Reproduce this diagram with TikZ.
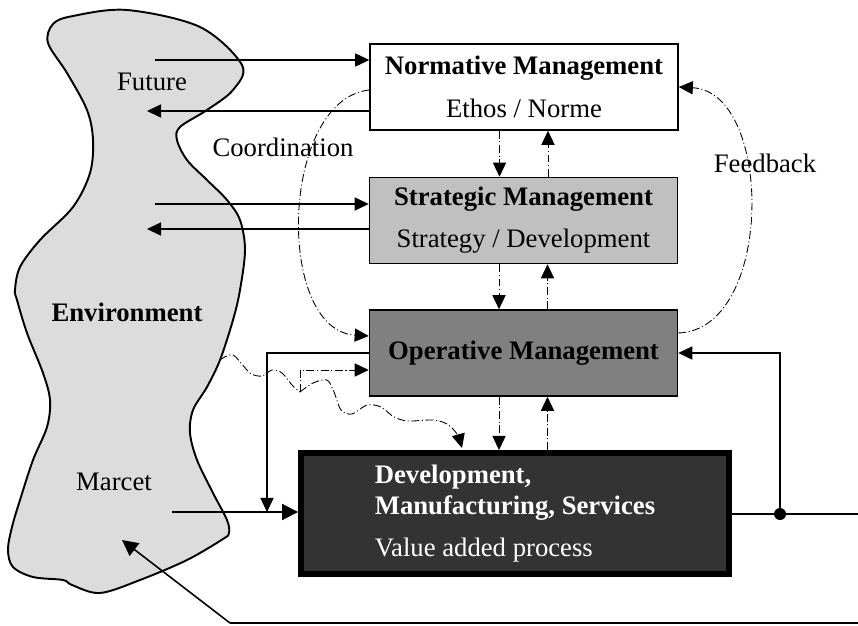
\documentclass[tikz,border=0pt]{standalone}
\usepackage{fontspec}
\setmainfont{Liberation Serif}
\usepackage{tikz}
\usetikzlibrary{arrows.meta}
\definecolor{envgray}{HTML}{DCDCDC}
\definecolor{stratgray}{HTML}{C0C0C0}
\definecolor{opgray}{HTML}{808080}
\definecolor{valdark}{HTML}{333333}
\tikzset{
  lvl/.style={draw,line width=0.9pt,minimum width=6.16cm,minimum height=1.72cm,align=center,inner sep=0pt},
  arr/.style={line width=0.6pt,-{Triangle[length=8pt,width=7.5pt]}},
  bigarr/.style={line width=1.1pt,-{Triangle[length=9pt,width=9pt]}},
  dd/.style={line width=0.5pt,dash pattern=on 4.5pt off 1.5pt on 0.6pt off 1.5pt,-{Triangle[length=8pt,width=7.5pt]}},
}
\newcommand{\lvlfont}{\fontsize{15.2}{18}\selectfont}

\begin{document}
\begin{tikzpicture}[x=0.02cm,y=-0.02cm,font=\lvlfont]
\useasboundingbox (0,0) rectangle (858,625);
% environment blob
\filldraw[fill=envgray,line width=1.1pt] plot[smooth cycle,tension=0.55] coordinates {
  (53,24) (73,16) (127,10) (200,27) (242,65) (233,90) (207,110) (180,127) (177,140)
  (187,160) (207,180) (227,200) (240,220) (245,250) (240,290) (233,320) (220,360)
  (207,387) (193,410) (190,433) (197,460) (213,493) (227,520) (229,533) (223,539)
  (187,560) (140,580) (100,593) (72,585) (63,580) (33,577) (13,567) (8,550) (12,527)
  (20,500) (33,460) (47,427) (50,400) (43,373) (27,333) (17,300) (15,290) (20,267)
  (40,240) (73,207) (90,173) (93,140) (87,110) (67,73) (48,43)};
\node (fut) at (152,82) {Future};
\node (env) at (127,312) {\textbf{Environment}};
\node (mar) at (114,482) {Marcet};

% management levels
\node[lvl,fill=white] (nor) at (524,87) {\textbf{Normative Management}\\[6.4pt]Ethos / Norme};
\node[lvl,fill=stratgray] (str) at (523.5,220.5) {\textbf{Strategic Management}\\[5.8pt]Strategy / Development};
\node[lvl,fill=opgray] (opr) at (523.5,353) {\textbf{Operative Management}};
\node[draw,line width=3.4pt,fill=valdark,text=white,minimum width=8.56cm,minimum height=2.42cm,
  align=left,inner sep=0pt] (dev) at (515,513.5)
  {\textbf{Development,}\\\textbf{Manufacturing, Services}\\[5.8pt]Value added process};

\node (coo) at (283,147) {Coordination};
\node (fbk) at (765,163) {Feedback};

\coordinate (futin) at (155,60);
\coordinate (futout) at (147,111);
\coordinate (strin) at (155,204);
\coordinate (strout) at (147,229);
\coordinate (mkt) at (172,512);
\coordinate (mkj) at (267,512);
\coordinate (tap) at (780,514);
\coordinate (outr) at (858,514);
\coordinate (retr) at (858,623);
\coordinate (retk) at (230,623);
\coordinate (rett) at (122,540);
\coordinate (wst) at (220,360);
\coordinate (wj) at (300,392);

% environment links
\draw[arr] (futin) -- (futin -| nor.west);
\draw[arr] (nor.west |- futout) -- (futout);
\draw[arr] (strin) -- (strin -| str.west);
\draw[arr] (str.west |- strout) -- (strout);

% level to level
\foreach \a/\b in {nor/str,str/opr,opr/dev}{
  \draw[dd] ([xshift=-0.49cm]\a.south) -- ([xshift=-0.49cm]\a.south |- \b.north);
  \draw[dd] ([xshift=0.48cm]\a.south |- \b.north) -- ([xshift=0.48cm]\a.south);
}
\draw[dd] ([yshift=-0.06cm]nor.west) .. controls (280,100) and (275,330) .. ([yshift=0.34cm]opr.west);
\draw[dd] ([yshift=0.4cm]opr.east) .. controls (774,330) and (774,92) .. (nor.east);

% value chain and loops
\draw[arr] (opr.west) -| (mkj);
\draw[bigarr] (mkt) -- (mkt -| dev.west);
\draw[line width=1.1pt] (dev.east |- outr) -- (outr);
\fill (tap) circle (0.12cm);
\draw[arr] (tap) |- (opr.east);
\draw[line width=0.7pt] (retr) -- (retk);
\draw[bigarr,line width=0.9pt] (retk) -- (rett);

% disturbances
\draw[dd,-] plot[smooth] coordinates {(wst) (233,355) (250,373) (262,376) (272,370) (282,373) (292,385) (wj)};
\draw[dd] (wj) |- ([yshift=-0.34cm]opr.west);
\draw[dd] plot[smooth] coordinates {(wj) (313,383) (327,380) (334,392) (341,410) (352,414) (367,405)
  (381,407) (394,417) (408,421) (433,420) (447,424) (457,434) (462,448)};
\end{tikzpicture}
\end{document}
